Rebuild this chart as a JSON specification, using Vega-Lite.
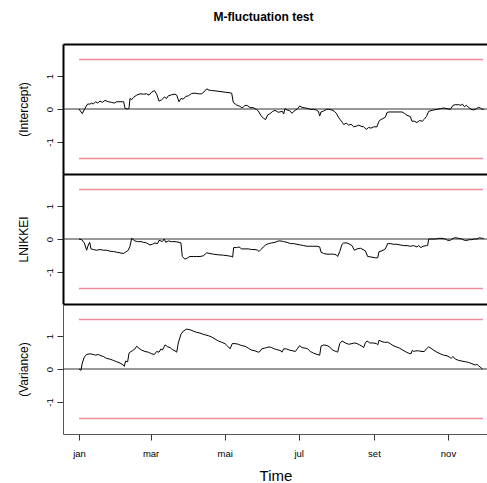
{
"$schema":"https://vega.github.io/schema/vega-lite/v6.json",
"padding":{"left":16,"top":11,"right":0,"bottom":0},
"spacing":0,
"bounds":"flush",
"title":{"text":"M-fluctuation test","fontSize":12,"fontWeight":"bold","font":"Liberation Sans","color":"black","anchor":"middle","frame":"group","dx":-12,"offset":11,"baseline":"alphabetic"},
"config":{"font":"Liberation Sans","view":{"stroke":null},"axis":{"labelColor":"black","titleColor":"black","labelFont":"Liberation Sans","titleFont":"Liberation Sans","grid":false}},
"datasets":{
"bounds":[{"day":0,"value":1.5,"side":"upper"},{"day":332.8,"value":1.5,"side":"upper"},{"day":0,"value":-1.5,"side":"lower"},{"day":332.8,"value":-1.5,"side":"lower"}],
"intercept":[{"day":0,"value":0},{"day":2.7,"value":-0.14},{"day":4.9,"value":0.02},{"day":7.1,"value":0.15},{"day":9.1,"value":0.15},{"day":10.4,"value":0.18},{"day":11.8,"value":0.15},{"day":13.7,"value":0.22},{"day":15.4,"value":0.18},{"day":17.3,"value":0.24},{"day":19.2,"value":0.2},{"day":21.4,"value":0.26},{"day":24.2,"value":0.22},{"day":26.9,"value":0.2},{"day":29.1,"value":0.18},{"day":31,"value":0.22},{"day":33.8,"value":0.22},{"day":36.8,"value":0.22},{"day":37.9,"value":0.02},{"day":40.1,"value":0},{"day":41.2,"value":0.02},{"day":42,"value":0.32},{"day":43.4,"value":0.28},{"day":44.8,"value":0.35},{"day":47.5,"value":0.42},{"day":50.3,"value":0.46},{"day":53,"value":0.45},{"day":55.7,"value":0.46},{"day":57.7,"value":0.42},{"day":59.9,"value":0.51},{"day":62.1,"value":0.56},{"day":64,"value":0.45},{"day":65.9,"value":0.24},{"day":68.1,"value":0.28},{"day":70.3,"value":0.36},{"day":72.2,"value":0.32},{"day":73.6,"value":0.4},{"day":76.3,"value":0.43},{"day":79.1,"value":0.45},{"day":80.5,"value":0.42},{"day":82.4,"value":0.22},{"day":84,"value":0.32},{"day":86,"value":0.3},{"day":87.9,"value":0.38},{"day":90.1,"value":0.4},{"day":92.8,"value":0.47},{"day":95.6,"value":0.48},{"day":98.3,"value":0.46},{"day":101.1,"value":0.46},{"day":103.8,"value":0.55},{"day":105.2,"value":0.61},{"day":107.1,"value":0.57},{"day":109.3,"value":0.56},{"day":112,"value":0.55},{"day":116.2,"value":0.53},{"day":120.3,"value":0.51},{"day":124.4,"value":0.49},{"day":125.8,"value":0.48},{"day":127.1,"value":0.2},{"day":129.9,"value":0.12},{"day":132.6,"value":0.08},{"day":134,"value":0.04},{"day":135.4,"value":0.06},{"day":136.8,"value":0.11},{"day":139,"value":0.1},{"day":140.9,"value":0.04},{"day":143.6,"value":0.04},{"day":146.4,"value":-0.02},{"day":147.7,"value":-0.06},{"day":149.9,"value":-0.2},{"day":151.9,"value":-0.28},{"day":153.8,"value":-0.32},{"day":155.4,"value":-0.18},{"day":157.4,"value":-0.14},{"day":159.3,"value":-0.08},{"day":161.5,"value":-0.04},{"day":164.2,"value":-0.1},{"day":166.4,"value":-0.08},{"day":167.5,"value":-0.07},{"day":168.6,"value":-0.15},{"day":169.7,"value":0.01},{"day":171.4,"value":-0.03},{"day":173.6,"value":-0.05},{"day":175.5,"value":-0.13},{"day":178.2,"value":-0.03},{"day":180.2,"value":0.01},{"day":181.8,"value":0.09},{"day":183.7,"value":0.05},{"day":186.5,"value":0.03},{"day":189.2,"value":0.01},{"day":190.6,"value":-0.01},{"day":193.3,"value":-0.01},{"day":195.5,"value":-0.03},{"day":197.2,"value":-0.07},{"day":198.3,"value":-0.21},{"day":199.4,"value":-0.09},{"day":201.6,"value":-0.06},{"day":203.8,"value":-0.01},{"day":205.7,"value":-0.01},{"day":208.4,"value":-0.03},{"day":210.4,"value":-0.07},{"day":212,"value":-0.13},{"day":213.7,"value":-0.25},{"day":215.3,"value":-0.33},{"day":217,"value":-0.41},{"day":218.1,"value":-0.47},{"day":220.2,"value":-0.43},{"day":222.2,"value":-0.49},{"day":224.1,"value":-0.46},{"day":226.3,"value":-0.54},{"day":228.5,"value":-0.52},{"day":230.4,"value":-0.49},{"day":232.3,"value":-0.52},{"day":234.5,"value":-0.54},{"day":236.7,"value":-0.62},{"day":238.6,"value":-0.56},{"day":240.6,"value":-0.58},{"day":242.8,"value":-0.54},{"day":245.5,"value":-0.54},{"day":246.9,"value":-0.39},{"day":248.2,"value":-0.33},{"day":250.4,"value":-0.29},{"day":252.4,"value":-0.25},{"day":253.7,"value":-0.11},{"day":255.1,"value":-0.09},{"day":257.8,"value":-0.09},{"day":262,"value":-0.09},{"day":266.1,"value":-0.09},{"day":268,"value":-0.13},{"day":270.2,"value":-0.19},{"day":273,"value":-0.23},{"day":274.3,"value":-0.37},{"day":276.2,"value":-0.37},{"day":278.4,"value":-0.41},{"day":280.6,"value":-0.35},{"day":282.8,"value":-0.37},{"day":284.5,"value":-0.31},{"day":286.2,"value":-0.23},{"day":288.1,"value":-0.07},{"day":290,"value":-0.05},{"day":292.2,"value":-0.03},{"day":294.9,"value":-0.01},{"day":297.7,"value":0.01},{"day":300.4,"value":0.03},{"day":303.2,"value":0.01},{"day":305.9,"value":-0.01},{"day":308.1,"value":0.11},{"day":310,"value":0.13},{"day":312.8,"value":0.13},{"day":314.7,"value":0.11},{"day":315.8,"value":0.15},{"day":317.5,"value":0.07},{"day":319.1,"value":0.11},{"day":321,"value":0.05},{"day":323,"value":-0.01},{"day":325.2,"value":-0.03},{"day":327.4,"value":0.01},{"day":329,"value":0.05},{"day":330.7,"value":0.03},{"day":332.1,"value":-0.01},{"day":333.4,"value":-0.01}],
"lnikkei":[{"day":0,"value":0},{"day":2.2,"value":-0.02},{"day":4.4,"value":-0.12},{"day":6.3,"value":-0.34},{"day":7.7,"value":-0.18},{"day":8.8,"value":-0.1},{"day":9.9,"value":-0.3},{"day":11.8,"value":-0.32},{"day":14.6,"value":-0.34},{"day":17.3,"value":-0.32},{"day":20,"value":-0.34},{"day":22.8,"value":-0.34},{"day":25.5,"value":-0.37},{"day":28.3,"value":-0.38},{"day":31,"value":-0.4},{"day":33.8,"value":-0.42},{"day":36.5,"value":-0.44},{"day":38.4,"value":-0.4},{"day":40.6,"value":-0.34},{"day":42,"value":-0.22},{"day":43.4,"value":0.02},{"day":44.8,"value":-0.02},{"day":46.1,"value":-0.06},{"day":48.3,"value":-0.08},{"day":51.1,"value":-0.08},{"day":53,"value":-0.1},{"day":55.7,"value":-0.12},{"day":58.5,"value":-0.18},{"day":60.4,"value":-0.16},{"day":62.6,"value":-0.12},{"day":64.8,"value":-0.14},{"day":65.9,"value":-0.04},{"day":67.6,"value":-0.06},{"day":68.7,"value":-0.08},{"day":70.3,"value":0},{"day":71.4,"value":-0.1},{"day":73.6,"value":-0.06},{"day":76.3,"value":-0.08},{"day":79.1,"value":-0.08},{"day":82.4,"value":-0.1},{"day":84,"value":-0.12},{"day":85.1,"value":-0.53},{"day":87.3,"value":-0.61},{"day":89.5,"value":-0.57},{"day":91.4,"value":-0.53},{"day":94.2,"value":-0.53},{"day":96.9,"value":-0.53},{"day":99.7,"value":-0.53},{"day":102.4,"value":-0.51},{"day":105.2,"value":-0.42},{"day":107.9,"value":-0.44},{"day":110.7,"value":-0.46},{"day":114.8,"value":-0.48},{"day":118.9,"value":-0.49},{"day":123,"value":-0.51},{"day":125.8,"value":-0.53},{"day":126.6,"value":-0.55},{"day":127.4,"value":-0.26},{"day":129.9,"value":-0.26},{"day":131.8,"value":-0.24},{"day":134,"value":-0.3},{"day":136.8,"value":-0.3},{"day":139.5,"value":-0.3},{"day":142.3,"value":-0.32},{"day":145,"value":-0.32},{"day":147.2,"value":-0.34},{"day":148.3,"value":-0.38},{"day":149.9,"value":-0.32},{"day":151.9,"value":-0.24},{"day":153.8,"value":-0.18},{"day":156,"value":-0.14},{"day":158.7,"value":-0.12},{"day":161.5,"value":-0.1},{"day":164.2,"value":-0.06},{"day":166.4,"value":-0.06},{"day":168.6,"value":-0.08},{"day":171.4,"value":-0.1},{"day":174.1,"value":-0.14},{"day":176.9,"value":-0.14},{"day":179.6,"value":-0.16},{"day":182.3,"value":-0.18},{"day":185.1,"value":-0.2},{"day":187.8,"value":-0.22},{"day":190.6,"value":-0.22},{"day":193.3,"value":-0.22},{"day":196.1,"value":-0.22},{"day":198.3,"value":-0.24},{"day":199.4,"value":-0.4},{"day":201.6,"value":-0.44},{"day":204.4,"value":-0.46},{"day":207.1,"value":-0.46},{"day":209.8,"value":-0.46},{"day":212,"value":-0.48},{"day":213.1,"value":-0.53},{"day":214.8,"value":-0.38},{"day":216.7,"value":-0.16},{"day":218.1,"value":-0.12},{"day":220.8,"value":-0.12},{"day":223,"value":-0.16},{"day":224.9,"value":-0.2},{"day":226.9,"value":-0.34},{"day":229.1,"value":-0.3},{"day":231.8,"value":-0.28},{"day":234,"value":-0.32},{"day":235.9,"value":-0.36},{"day":237.8,"value":-0.53},{"day":241.4,"value":-0.55},{"day":244.1,"value":-0.57},{"day":246.1,"value":-0.57},{"day":247.2,"value":-0.38},{"day":249.6,"value":-0.36},{"day":252.4,"value":-0.3},{"day":254.3,"value":-0.14},{"day":256.5,"value":-0.14},{"day":259.2,"value":-0.16},{"day":262,"value":-0.16},{"day":264.7,"value":-0.18},{"day":267.5,"value":-0.2},{"day":270.2,"value":-0.2},{"day":273,"value":-0.22},{"day":275.7,"value":-0.2},{"day":278.4,"value":-0.24},{"day":279.8,"value":-0.2},{"day":281.7,"value":-0.26},{"day":283.4,"value":-0.22},{"day":286.2,"value":-0.2},{"day":287.2,"value":-0.2},{"day":288.1,"value":0},{"day":290.8,"value":0},{"day":293.6,"value":0},{"day":296.3,"value":0.02},{"day":299.1,"value":0.02},{"day":301.8,"value":0},{"day":303.7,"value":-0.04},{"day":305.9,"value":-0.04},{"day":308.1,"value":0.02},{"day":310,"value":0.04},{"day":312.8,"value":0.02},{"day":315.5,"value":0},{"day":317.5,"value":-0.04},{"day":319.6,"value":-0.04},{"day":321.8,"value":-0.02},{"day":323.7,"value":-0.02},{"day":325.6,"value":0},{"day":327.8,"value":0},{"day":330,"value":0.04},{"day":331.9,"value":0.02},{"day":333.4,"value":0.02}],
"variance":[{"day":0,"value":0},{"day":1.6,"value":-0.04},{"day":2.7,"value":0.18},{"day":4.4,"value":0.36},{"day":6.3,"value":0.44},{"day":9.1,"value":0.46},{"day":11.8,"value":0.44},{"day":13.7,"value":0.42},{"day":15.9,"value":0.44},{"day":18.1,"value":0.4},{"day":20,"value":0.38},{"day":22.8,"value":0.32},{"day":25.5,"value":0.3},{"day":28.3,"value":0.26},{"day":31,"value":0.22},{"day":33.8,"value":0.18},{"day":36.5,"value":0.12},{"day":37.3,"value":0.08},{"day":38.4,"value":0.24},{"day":40.1,"value":0.22},{"day":41.2,"value":0.48},{"day":42.8,"value":0.53},{"day":43.9,"value":0.55},{"day":46.1,"value":0.61},{"day":47.5,"value":0.69},{"day":49.4,"value":0.63},{"day":51.6,"value":0.57},{"day":54.4,"value":0.53},{"day":57.1,"value":0.51},{"day":59.9,"value":0.46},{"day":62.1,"value":0.44},{"day":64,"value":0.53},{"day":65.9,"value":0.51},{"day":67.6,"value":0.61},{"day":68.7,"value":0.57},{"day":70.9,"value":0.73},{"day":73.1,"value":0.67},{"day":75,"value":0.65},{"day":76.9,"value":0.59},{"day":79.1,"value":0.55},{"day":80.5,"value":0.51},{"day":81.8,"value":0.79},{"day":84,"value":1.05},{"day":86,"value":1.15},{"day":88.7,"value":1.21},{"day":91.4,"value":1.19},{"day":94.2,"value":1.15},{"day":96.9,"value":1.11},{"day":99.7,"value":1.09},{"day":102.4,"value":1.05},{"day":104.4,"value":1.03},{"day":106.6,"value":1.01},{"day":109.3,"value":0.97},{"day":112,"value":0.91},{"day":114.8,"value":0.85},{"day":117.5,"value":0.81},{"day":120.3,"value":0.77},{"day":122.5,"value":0.69},{"day":124.4,"value":0.61},{"day":126.3,"value":0.77},{"day":128.5,"value":0.77},{"day":131.3,"value":0.75},{"day":134,"value":0.71},{"day":136.8,"value":0.69},{"day":139.5,"value":0.63},{"day":142.3,"value":0.57},{"day":145,"value":0.55},{"day":147.7,"value":0.51},{"day":149.1,"value":0.53},{"day":150.5,"value":0.61},{"day":152.7,"value":0.63},{"day":154.6,"value":0.65},{"day":156.5,"value":0.67},{"day":158.7,"value":0.65},{"day":160.9,"value":0.61},{"day":162.9,"value":0.59},{"day":164.8,"value":0.57},{"day":166.4,"value":0.55},{"day":167.2,"value":0.51},{"day":168.6,"value":0.61},{"day":170.8,"value":0.61},{"day":173.6,"value":0.57},{"day":176.3,"value":0.55},{"day":178.2,"value":0.53},{"day":180.2,"value":0.63},{"day":181.8,"value":0.71},{"day":183.7,"value":0.65},{"day":186.5,"value":0.63},{"day":188.4,"value":0.61},{"day":190.6,"value":0.53},{"day":193.3,"value":0.48},{"day":196.1,"value":0.44},{"day":198.3,"value":0.42},{"day":199.4,"value":0.69},{"day":201.6,"value":0.73},{"day":204.4,"value":0.71},{"day":206.5,"value":0.67},{"day":208.4,"value":0.59},{"day":210.4,"value":0.55},{"day":212,"value":0.53},{"day":213.1,"value":0.51},{"day":214.8,"value":0.77},{"day":216.7,"value":0.85},{"day":219.4,"value":0.79},{"day":222.2,"value":0.75},{"day":224.9,"value":0.77},{"day":226.9,"value":0.79},{"day":229.1,"value":0.77},{"day":231.2,"value":0.73},{"day":233.2,"value":0.69},{"day":234.5,"value":0.65},{"day":235.9,"value":0.79},{"day":237.3,"value":0.85},{"day":239.5,"value":0.79},{"day":242.2,"value":0.79},{"day":245,"value":0.77},{"day":246.1,"value":0.73},{"day":247.2,"value":0.87},{"day":249.6,"value":0.83},{"day":251.6,"value":0.81},{"day":254.3,"value":0.81},{"day":256.5,"value":0.77},{"day":258.7,"value":0.71},{"day":261.4,"value":0.67},{"day":264.2,"value":0.63},{"day":266.9,"value":0.57},{"day":269.7,"value":0.51},{"day":271.6,"value":0.48},{"day":273.5,"value":0.46},{"day":274.6,"value":0.57},{"day":275.7,"value":0.53},{"day":277.4,"value":0.55},{"day":279.8,"value":0.55},{"day":282.6,"value":0.53},{"day":284.5,"value":0.53},{"day":286.2,"value":0.61},{"day":288.1,"value":0.67},{"day":290,"value":0.63},{"day":292.2,"value":0.57},{"day":294.9,"value":0.51},{"day":297.7,"value":0.46},{"day":300.4,"value":0.42},{"day":303.2,"value":0.4},{"day":305.4,"value":0.36},{"day":306.5,"value":0.32},{"day":308.1,"value":0.38},{"day":310,"value":0.3},{"day":312.8,"value":0.26},{"day":315.5,"value":0.24},{"day":318.3,"value":0.22},{"day":321,"value":0.2},{"day":323.7,"value":0.16},{"day":326.5,"value":0.12},{"day":327.8,"value":0.14},{"day":329.2,"value":0.1},{"day":331.1,"value":0.04},{"day":332.5,"value":0}]
},
"vconcat":[
{"width":425,"height":130,
 "layer":[
  {"data":{"name":"bounds"},"mark":{"type":"line","color":"#EE8C98","strokeWidth":1.5},
   "encoding":{"x":{"field":"day","type":"quantitative","scale":{"domain":[-13.18,336.96],"nice":false,"zero":false},"axis":{"orient":"top","domain":true,"domainColor":"black","domainWidth":2,"ticks":false,"labels":false,"title":null}},
    "y":{"field":"value","type":"quantitative","scale":{"domain":[-1.97,1.97],"nice":false},"axis":{"values":[-1,0,1],"labelExpr":"'' + datum.value","domainColor":"black","domainWidth":2,"tickColor":"#333","tickSize":6,"labelAngle":-90,"labelAlign":"center","labelBaseline":"middle","labelPadding":8,"labelFontSize":9.5,"title":"(Intercept)","titleX":-40,"titleY":65,"titleAngle":-90,"titleAlign":"center","titleBaseline":"middle","titleFontSize":12,"titleFontWeight":"normal"}},
    "detail":{"field":"side"}}},
  {"data":{"values":[{}]},"mark":{"type":"rule","color":"#333","strokeWidth":1},"encoding":{"y":{"datum":0}}},
  {"data":{"name":"intercept"},"mark":{"type":"line","color":"black","strokeWidth":1},
   "encoding":{"x":{"field":"day","type":"quantitative"},"y":{"field":"value","type":"quantitative"}}}
 ]},
{"width":425,"height":130,
 "layer":[
  {"data":{"name":"bounds"},"mark":{"type":"line","color":"#EE8C98","strokeWidth":1.5},
   "encoding":{"x":{"field":"day","type":"quantitative","scale":{"domain":[-13.18,336.96],"nice":false,"zero":false},"axis":{"orient":"top","domain":true,"domainColor":"black","domainWidth":2,"ticks":false,"labels":false,"title":null}},
    "y":{"field":"value","type":"quantitative","scale":{"domain":[-1.97,1.97],"nice":false},"axis":{"values":[-1,0,1],"labelExpr":"'' + datum.value","domainColor":"black","domainWidth":2,"tickColor":"#333","tickSize":6,"labelAngle":-90,"labelAlign":"center","labelBaseline":"middle","labelPadding":8,"labelFontSize":9.5,"title":"LNIKKEI","titleX":-40,"titleY":65,"titleAngle":-90,"titleAlign":"center","titleBaseline":"middle","titleFontSize":12,"titleFontWeight":"normal"}},
    "detail":{"field":"side"}}},
  {"data":{"values":[{}]},"mark":{"type":"rule","color":"#333","strokeWidth":1},"encoding":{"y":{"datum":0}}},
  {"data":{"name":"lnikkei"},"mark":{"type":"line","color":"black","strokeWidth":1},
   "encoding":{"x":{"field":"day","type":"quantitative"},"y":{"field":"value","type":"quantitative"}}}
 ]},
{"width":425,"height":130,
 "resolve":{"axis":{"x":"independent"}},
 "layer":[
  {"data":{"name":"bounds"},"mark":{"type":"line","color":"#EE8C98","strokeWidth":1.5},
   "encoding":{"x":{"field":"day","type":"quantitative","scale":{"domain":[-13.18,336.96],"nice":false,"zero":false},"axis":{"orient":"top","domain":true,"domainColor":"black","domainWidth":2,"ticks":false,"labels":false,"title":null}},
    "y":{"field":"value","type":"quantitative","scale":{"domain":[-1.97,1.97],"nice":false},"axis":{"values":[-1,0,1],"labelExpr":"'' + datum.value","domainColor":"#555","domainWidth":1,"tickColor":"#333","tickSize":6,"labelAngle":-90,"labelAlign":"center","labelBaseline":"middle","labelPadding":8,"labelFontSize":9.5,"title":"(Variance)","titleX":-40,"titleY":65,"titleAngle":-90,"titleAlign":"center","titleBaseline":"middle","titleFontSize":12,"titleFontWeight":"normal"}},
    "detail":{"field":"side"}}},
  {"data":{"values":[{}]},"mark":{"type":"rule","color":"#333","strokeWidth":1},"encoding":{"y":{"datum":0}}},
  {"data":{"name":"variance"},"mark":{"type":"line","color":"black","strokeWidth":1},
   "encoding":{"x":{"field":"day","type":"quantitative","axis":{"orient":"bottom","values":[0,59,120,181,243,304],"labelExpr":"datum.value == 0 ? 'jan' : datum.value == 59 ? 'mar' : datum.value == 120 ? 'mai' : datum.value == 181 ? 'jul' : datum.value == 243 ? 'set' : 'nov'","labelFlush":false,"domainColor":"#555","domainWidth":1,"tickColor":"#333","tickSize":6,"labelPadding":8,"labelFontSize":9.5,"title":"Time","titleFontSize":15,"titleFontWeight":"normal","titleY":46,"titleBaseline":"alphabetic"}},"y":{"field":"value","type":"quantitative"}}}
 ]}
]
}
